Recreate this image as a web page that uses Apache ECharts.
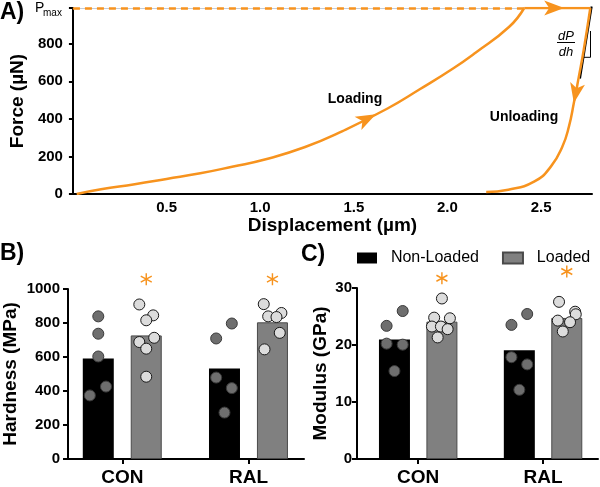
<!DOCTYPE html>
<html>
<head>
<meta charset="utf-8">
<script src="https://cdn.jsdelivr.net/npm/echarts@6/dist/echarts.min.js"></script>
<style>
  html, body { margin: 0; padding: 0; background: #fff; }
  #chart { width: 600px; height: 487px; }
</style>
</head>
<body>
<div id="chart"></div>
<script>
// ---- panel A: load-displacement curve (displacement µm, force µN)
const pMax = 990;
const loadingCurve = [[0.02, 0], [0.15, 25], [0.33, 52], [0.5, 80], [0.68, 110], [0.85, 145], [1.03, 185],
  [1.24, 250], [1.44, 335], [1.68, 455], [1.85, 556], [2.03, 668], [2.15, 752], [2.33, 890], [2.41, 990]];
const holdCurve = [[2.41, 990], [2.763, 990]];
const unloadingCurve = [[2.763, 990], [2.728, 768], [2.702, 626], [2.675, 484], [2.649, 360], [2.614, 253],
  [2.553, 147], [2.465, 67], [2.325, 23], [2.207, 11]];
const dispTicks = [0.5, 1.0, 1.5, 2.0, 2.5];
const forceTicks = [0, 200, 400, 600, 800];
// where the direction arrows sit on each curve (displacement)
const arrowAt = [1.57, 2.57, 2.685];

// ---- panels B and C: bars = group means, dots = individual samples
const groups = ['CON', 'RAL'];
const hardNL = [591, 533];
const hardL = [727, 804];
const hardDotsNL = [[839, 737, 603, 426, 374], [797, 709, 479, 417, 273]];
const hardDotsL = [[909, 845, 816, 713, 688, 649, 484], [911, 859, 839, 835, 742, 645]];
const hardJitNL = [[0, 0, 0, 0.061, -0.067], [0.058, -0.066, -0.066, 0.058, 0]];
const hardJitL = [[-0.055, 0.055, 0, 0.063, -0.055, 0, 0], [-0.069, 0.071, -0.034, 0.032, 0.058, -0.063]];
const hardSig = [1058, 1058];

const modNL = [20.95, 19.08];
const modL = [24.1, 24.75];
const modDotsNL = [[25.96, 23.36, 20.24, 20.06, 15.43], [25.44, 23.53, 17.86, 16.6, 12.14]];
const modDotsL = [[28.16, 24.8, 24.69, 23.24, 23.24, 22.78, 21.33], [27.57, 25.84, 25.39, 24.28, 24.0, 22.37]];
const modJitNL = [[0.066, -0.063, -0.063, 0.066, 0], [0.063, -0.063, -0.063, 0.063, 0]];
const modJitL = [[0, -0.062, 0.064, -0.08, -0.008, 0.046, -0.034], [-0.062, 0.067, 0.072, -0.072, 0.026, -0.032]];
const modSig = [31.7, 32.9];

const FONT = 'Liberation Sans, Arial, sans-serif';
const ORANGE = '#f7931e';
const BAR_SHIFT = 0.19;

const chart = echarts.init(document.getElementById('chart'));

const axisLine = { show: true, onZero: false, lineStyle: { color: '#000', width: 2 } };
const tickStyle = { color: '#000', width: 2 };
const boldLabel = (size) => ({ color: '#000', fontFamily: FONT, fontWeight: 'bold', fontSize: size });

function catAxis(grid, min, max) {
  return {
    type: 'value', gridIndex: grid, min: min, max: max,
    axisLine: axisLine, splitLine: { show: false },
    axisTick: { show: true, customValues: [0, 1], length: 5, lineStyle: tickStyle },
    axisLabel: Object.assign({ customValues: [0, 1], margin: 9, formatter: v => groups[Math.round(v)] }, boldLabel(19))
  };
}

function valAxis(grid, max, interval, name, gap, margin) {
  return {
    type: 'value', gridIndex: grid, min: 0, max: max, interval: interval,
    name: name, nameLocation: 'middle', nameGap: gap, nameTextStyle: boldLabel(19),
    axisLine: axisLine, splitLine: { show: false },
    axisTick: { show: true, length: 5, lineStyle: tickStyle },
    axisLabel: Object.assign({ margin: margin, formatter: v => String(v) }, boldLabel(15))
  };
}

const barSeries = (name, grid, means, shift, style) => ({
  type: 'bar', name: name, xAxisIndex: grid, yAxisIndex: grid,
  barWidth: 31, barGap: '-100%', z: 2,
  itemStyle: style,
  data: means.map((v, i) => [i + shift, v])
});

const dotSeries = (grid, dots, jit, shift, fill, edge) => ({
  type: 'scatter', name: 'dots', xAxisIndex: grid, yAxisIndex: grid,
  symbolSize: 11, z: 4, clip: false,
  itemStyle: { color: fill, borderColor: edge, borderWidth: 1, opacity: 1 },
  data: dots.flatMap((arr, i) => arr.map((v, k) => [i + shift + jit[i][k], v]))
});

const starSeries = (grid, sig) => ({
  type: 'scatter', name: 'sig', xAxisIndex: grid, yAxisIndex: grid,
  symbol: 'path://M5,0L5,12M0,3L10,9M0,9L10,3', symbolSize: [11, 12], z: 4, clip: false,
  itemStyle: { color: 'transparent', borderColor: ORANGE, borderWidth: 1.5, opacity: 1 },
  data: sig.map((v, i) => [i + BAR_SHIFT, v])
});

const nlStyle = { color: '#000' };
const lStyle = { color: '#808080', borderColor: '#4a4a4a', borderWidth: 1 };

// arrow positions on the curves
function arrowPoint(curve, x) {
  for (let i = 0; i < curve.length - 1; i++) {
    const a = curve[i], b = curve[i + 1];
    if ((x - a[0]) * (x - b[0]) <= 0 && a[0] !== b[0]) {
      const t = (x - a[0]) / (b[0] - a[0]);
      return { p: [x, a[1] + t * (b[1] - a[1])], a: a, b: b };
    }
  }
  return null;
}
const arrowCurves = [loadingCurve, holdCurve, unloadingCurve];
const arrowInfo = arrowCurves.map((c, i) => arrowPoint(c, arrowAt[i]));

const option = {
  animation: false,
  backgroundColor: '#fff',
  grid: [
    { left: 66, right: 8, top: 8, bottom: 293 },
    { left: 67, right: 296, top: 289, bottom: 26 },
    { left: 357, right: 2, top: 288, bottom: 26 }
  ],
  legend: {
    data: ['Non-Loaded', 'Loaded'], left: 352, top: 245,
    icon: 'rect', itemWidth: 20, itemHeight: 11, itemGap: 23, selectedMode: false,
    formatter: n => '  ' + n,
    textStyle: { color: '#000', fontFamily: FONT, fontSize: 16 }
  },
  xAxis: [
    {
      type: 'value', gridIndex: 0, min: 0, max: 2.772,
      name: 'Displacement (µm)', nameLocation: 'middle', nameGap: 22, nameTextStyle: boldLabel(19),
      axisLine: axisLine, splitLine: { show: false }, axisTick: { show: false },
      axisLabel: Object.assign({ customValues: dispTicks, margin: 6, formatter: v => v.toFixed(1) }, boldLabel(15))
    },
    catAxis(1, -0.43, 1.44),
    catAxis(2, -0.49, 1.44)
  ],
  yAxis: [
    {
      type: 'value', gridIndex: 0, min: 0, max: pMax,
      name: 'Force (µN)', nameLocation: 'middle', nameGap: 45, nameTextStyle: boldLabel(19),
      axisLine: axisLine, splitLine: { show: false },
      axisTick: { show: true, customValues: forceTicks.concat([pMax]), length: 4, lineStyle: tickStyle },
      axisLabel: Object.assign({ customValues: forceTicks, margin: 10 }, boldLabel(15))
    },
    valAxis(1, 1000, 200, 'Hardness (MPa)', 48, 8),
    valAxis(2, 30, 10, 'Modulus (GPa)', 27, 5)
  ],
  series: [
    {
      type: 'line', name: 'loading', xAxisIndex: 0, yAxisIndex: 0, data: loadingCurve,
      smooth: 0.5, showSymbol: false, lineStyle: { color: ORANGE, width: 2.5 }, z: 3,
      markLine: {
        silent: true, symbol: 'none', label: { show: false },
        lineStyle: { color: '#c5ccd8', width: 1, type: 'solid' },
        data: [[{ coord: [0, pMax] }, { coord: [holdCurve[0][0], pMax] }]]
      }
    },
    {
      type: 'line', name: 'hold', xAxisIndex: 0, yAxisIndex: 0, data: holdCurve,
      showSymbol: false, lineStyle: { color: ORANGE, width: 2.5 }, z: 3,
      markLine: {
        silent: true, symbol: 'none', label: { show: false },
        lineStyle: { color: ORANGE, width: 2.5, type: [7, 5] },
        data: [[{ coord: [0, pMax] }, { coord: [holdCurve[0][0], pMax] }]]
      }
    },
    {
      type: 'line', name: 'unloading', xAxisIndex: 0, yAxisIndex: 0, data: unloadingCurve,
      smooth: 0.5, showSymbol: false, lineStyle: { color: ORANGE, width: 2.5 }, z: 3
    },
    {
      type: 'scatter', name: 'arrows', xAxisIndex: 0, yAxisIndex: 0, z: 5, clip: false,
      symbol: 'path://M0,0L20,7.5L0,15L5,7.5Z', symbolSize: [20, 15],
      itemStyle: { color: ORANGE, opacity: 1 },
      data: arrowInfo.map(a => ({ value: a.p }))
    },
    barSeries('Non-Loaded', 1, hardNL, -BAR_SHIFT, nlStyle),
    barSeries('Loaded', 1, hardL, BAR_SHIFT, lStyle),
    dotSeries(1, hardDotsNL, hardJitNL, -BAR_SHIFT, '#6e6e6e', '#3a3a3a'),
    dotSeries(1, hardDotsL, hardJitL, BAR_SHIFT, '#dcdcdc', '#1a1a1a'),
    starSeries(1, hardSig),
    barSeries('Non-Loaded', 2, modNL, -BAR_SHIFT, nlStyle),
    barSeries('Loaded', 2, modL, BAR_SHIFT, lStyle),
    dotSeries(2, modDotsNL, modJitNL, -BAR_SHIFT, '#6e6e6e', '#3a3a3a'),
    dotSeries(2, modDotsL, modJitL, BAR_SHIFT, '#dcdcdc', '#1a1a1a'),
    starSeries(2, modSig)
  ],
  graphic: [
    // panel letters
    { type: 'text', left: 0, top: 1, style: { text: 'A)', font: 'bold 23px ' + FONT, fill: '#000' } },
    { type: 'text', left: 0, top: 242, style: { text: 'B)', font: 'bold 23px ' + FONT, fill: '#000' } },
    { type: 'text', left: 301, top: 243, style: { text: 'C)', font: 'bold 23px ' + FONT, fill: '#000' } },
    // P_max label
    { type: 'text', left: 35, top: 1, style: { text: 'P', font: '14px ' + FONT, fill: '#000' } },
    { type: 'text', left: 43, top: 8, style: { text: 'max', font: '10px ' + FONT, fill: '#000' } },
    // curve annotations
    { type: 'text', x: 355, y: 99, style: { text: 'Loading', font: 'bold 14px ' + FONT, fill: '#000', align: 'center', verticalAlign: 'middle' } },
    { type: 'text', x: 524, y: 117, style: { text: 'Unloading', font: 'bold 14px ' + FONT, fill: '#000', align: 'center', verticalAlign: 'middle' } },
    { type: 'text', x: 566, y: 36, style: { text: 'dP', font: 'italic 13px ' + FONT, fill: '#000', align: 'center', verticalAlign: 'middle' } },
    { type: 'line', shape: { x1: 557, y1: 42.5, x2: 575, y2: 42.5 }, style: { stroke: '#000', lineWidth: 1 } },
    { type: 'text', x: 566, y: 52, style: { text: 'dh', font: 'italic 13px ' + FONT, fill: '#000', align: 'center', verticalAlign: 'middle' } },
    { type: 'line', shape: { x1: 591.7, y1: 6.5, x2: 580, y2: 78.5 }, style: { stroke: '#000', lineWidth: 2 } },
    { type: 'polyline', shape: { points: [[590.5, 31], [590.5, 57.3], [584, 57.3]] }, style: { stroke: '#000', lineWidth: 1, fill: null } }
  ]
};

chart.setOption(option);

// rotate each arrow along its curve, measured in pixels
const rotations = arrowInfo.map(a => {
  const p1 = chart.convertToPixel({ gridIndex: 0 }, a.a);
  const p2 = chart.convertToPixel({ gridIndex: 0 }, a.b);
  return Math.atan2(-(p2[1] - p1[1]), p2[0] - p1[0]) * 180 / Math.PI;
});
chart.setOption({
  series: [{}, {}, {}, {
    data: arrowInfo.map((a, i) => ({ value: a.p, symbolRotate: rotations[i] }))
  }]
});
</script>
</body>
</html>
